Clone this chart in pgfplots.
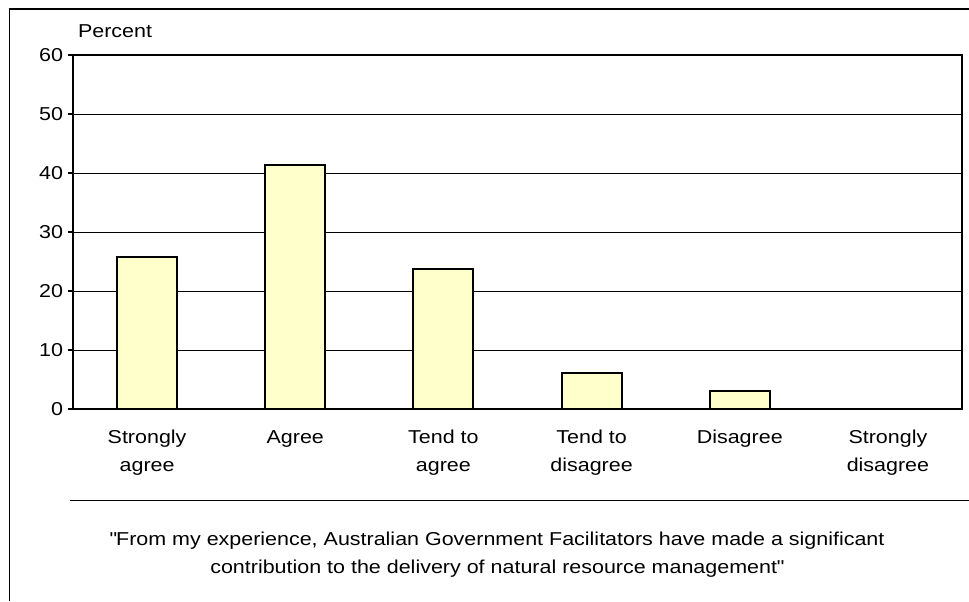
\documentclass[border=0pt]{standalone}
\usepackage{fontspec}
\setmainfont{Liberation Sans}[FakeStretch=1.15]
\usepackage{pgfplots}
\pgfplotsset{compat=1.18}
\definecolor{barfill}{HTML}{FFFFCC}
\begin{document}
\begin{tikzpicture}
\useasboundingbox (0,0) rectangle (726.75pt,450.75pt);
\draw[line width=0.8pt] (7.1pt,0) -- (7.1pt,444pt) -- (726.75pt,444pt);
\draw[line width=1pt] (52.5pt,75.4pt) -- (726.75pt,75.4pt);
\node[anchor=base,font=\fontsize{14}{16}\selectfont,inner sep=0pt] at (372.75pt,42pt) {\textquotedbl From my experience, Australian Government Facilitators have made a significant};
\node[anchor=base,font=\fontsize{14}{16}\selectfont,inner sep=0pt] at (372.75pt,21pt) {contribution to the delivery of natural resource management\textquotedbl};
\node[anchor=base,font=\fontsize{14}{16}\selectfont,inner sep=0pt] at (86.25pt,422.25pt) {Percent};
\begin{axis}[
  at={(54.75pt,144pt)}, anchor=south west,
  scale only axis, width=666.75pt, height=265.5pt,
  xmin=-0.5, xmax=5.5, ymin=0, ymax=60,
  ytick={0,10,...,60},
  ymajorgrids, grid style={black, line width=0.75pt},
  axis line style={black, line width=1.1pt},
  tick style={black, line width=0.8pt},
  tick align=outside,
  ytick pos=left, xtick pos=bottom,
  major tick length=4pt,
  xtick={0,1,2,3,4,5},
  xticklabels={Strongly\\agree, Agree\vphantom{l}, Tend to\\agree, Tend to\\disagree, Disagree\vphantom{l}, Strongly\\disagree},
  x tick style={draw=none},
  minor xtick={-0.5,0.5,...,5.5},
  minor tick length=4pt,
  minor x tick style={black, line width=0.8pt},
  xticklabel style={align=center, font=\fontsize{14}{21.5}\selectfont, anchor=north, yshift=-8pt},
  yticklabel style={font=\fontsize{14}{16}\selectfont},
  /pgf/number format/assume math mode=true,
  ybar, bar width=45pt,
]
\addplot[fill=barfill, draw=black, line width=1.4pt] coordinates {(0,25.8) (1,41.4) (2,23.8) (3,6.1) (4,3.1) (5,0)};
\end{axis}
\end{tikzpicture}
\end{document}
